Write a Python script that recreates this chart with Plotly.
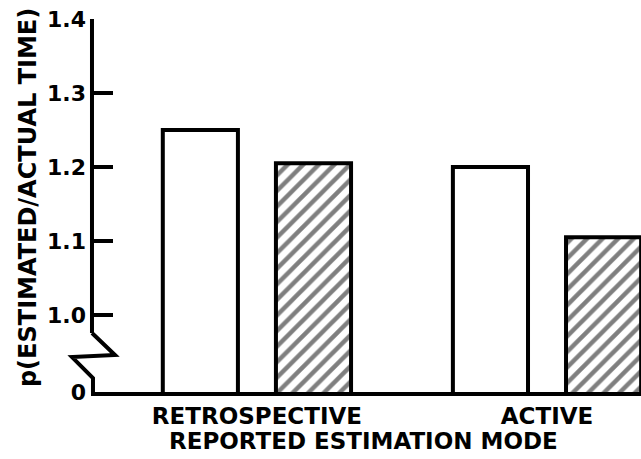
import plotly.graph_objects as go

# Data
categories = ["RETROSPECTIVE", "ACTIVE"]
open_values = [1.25, 1.20]
hatched_values = [1.205, 1.105]
tick_values = [0.896, 1.0, 1.1, 1.2, 1.3, 1.4]
tick_labels = ["0", "1.0", "1.1", "1.2", "1.3", "1.4"]
y_floor = 0.896

FONT = "DejaVu Sans"

fig = go.Figure()
fig.add_trace(go.Bar(
    x=categories, y=open_values, name="open",
    marker=dict(color="white", line=dict(color="black", width=4)),
))
fig.add_trace(go.Bar(
    x=categories, y=hatched_values, name="hatched",
    marker=dict(color="white", line=dict(color="black", width=4),
                pattern=dict(shape="/", fgcolor="black", bgcolor="white",
                             size=11, solidity=0.4)),
))

# y axis line with break
fig.add_shape(type="line", xref="paper", yref="y", x0=0.0018, x1=0.0018,
              y0=0.9757, y1=1.4, line=dict(color="black", width=4))
fig.add_shape(type="path", xref="paper", yref="y",
              path="M 0.0018 0.9757 L 0.0436 0.946 L -0.0345 0.9432 L 0.0036 0.9149 L 0.0036 0.896",
              line=dict(color="black", width=4))

fig.add_annotation(text="<b>p(ESTIMATED/ACTUAL TIME)</b>", xref="paper", yref="paper",
                   x=-0.1145, y=0.52, textangle=-90, showarrow=False,
                   font=dict(family=FONT, size=24, color="black"),
                   xanchor="center", yanchor="middle")
fig.add_annotation(text="<b>REPORTED ESTIMATION MODE</b>", xref="paper", yref="paper",
                   x=0.496, y=-0.1327, showarrow=False,
                   font=dict(family=FONT, size=23, color="black"),
                   xanchor="center", yanchor="middle")

fig.update_layout(
    width=641, height=459,
    margin=dict(l=91, r=0, t=19, b=67),
    paper_bgcolor="white", plot_bgcolor="white",
    showlegend=False,
    barmode="group", bargap=0.22, bargroupgap=0.336,
    font=dict(family=FONT, color="black"),
    xaxis=dict(
        range=[-0.572, 1.324], automargin=False,
        showline=True, linecolor="black", linewidth=4,
        showgrid=False, zeroline=False, ticks="",
        tickfont=dict(family=FONT, size=23, weight="bold", color="black"),
    ),
    yaxis=dict(
        range=[y_floor, 1.4], automargin=False,
        showline=False, showgrid=False, zeroline=False,
        tickvals=tick_values, ticktext=tick_labels,
        ticks="inside", ticklen=22, tickwidth=3.5, tickcolor="black",
        ticklabelstandoff=4,
        tickfont=dict(family=FONT, size=22, weight="bold", color="black"),
    ),
)

fig.write_html("out.html", config={"displayModeBar": False},
               post_script="document.body.style.margin='0';document.body.style.padding='0';")
